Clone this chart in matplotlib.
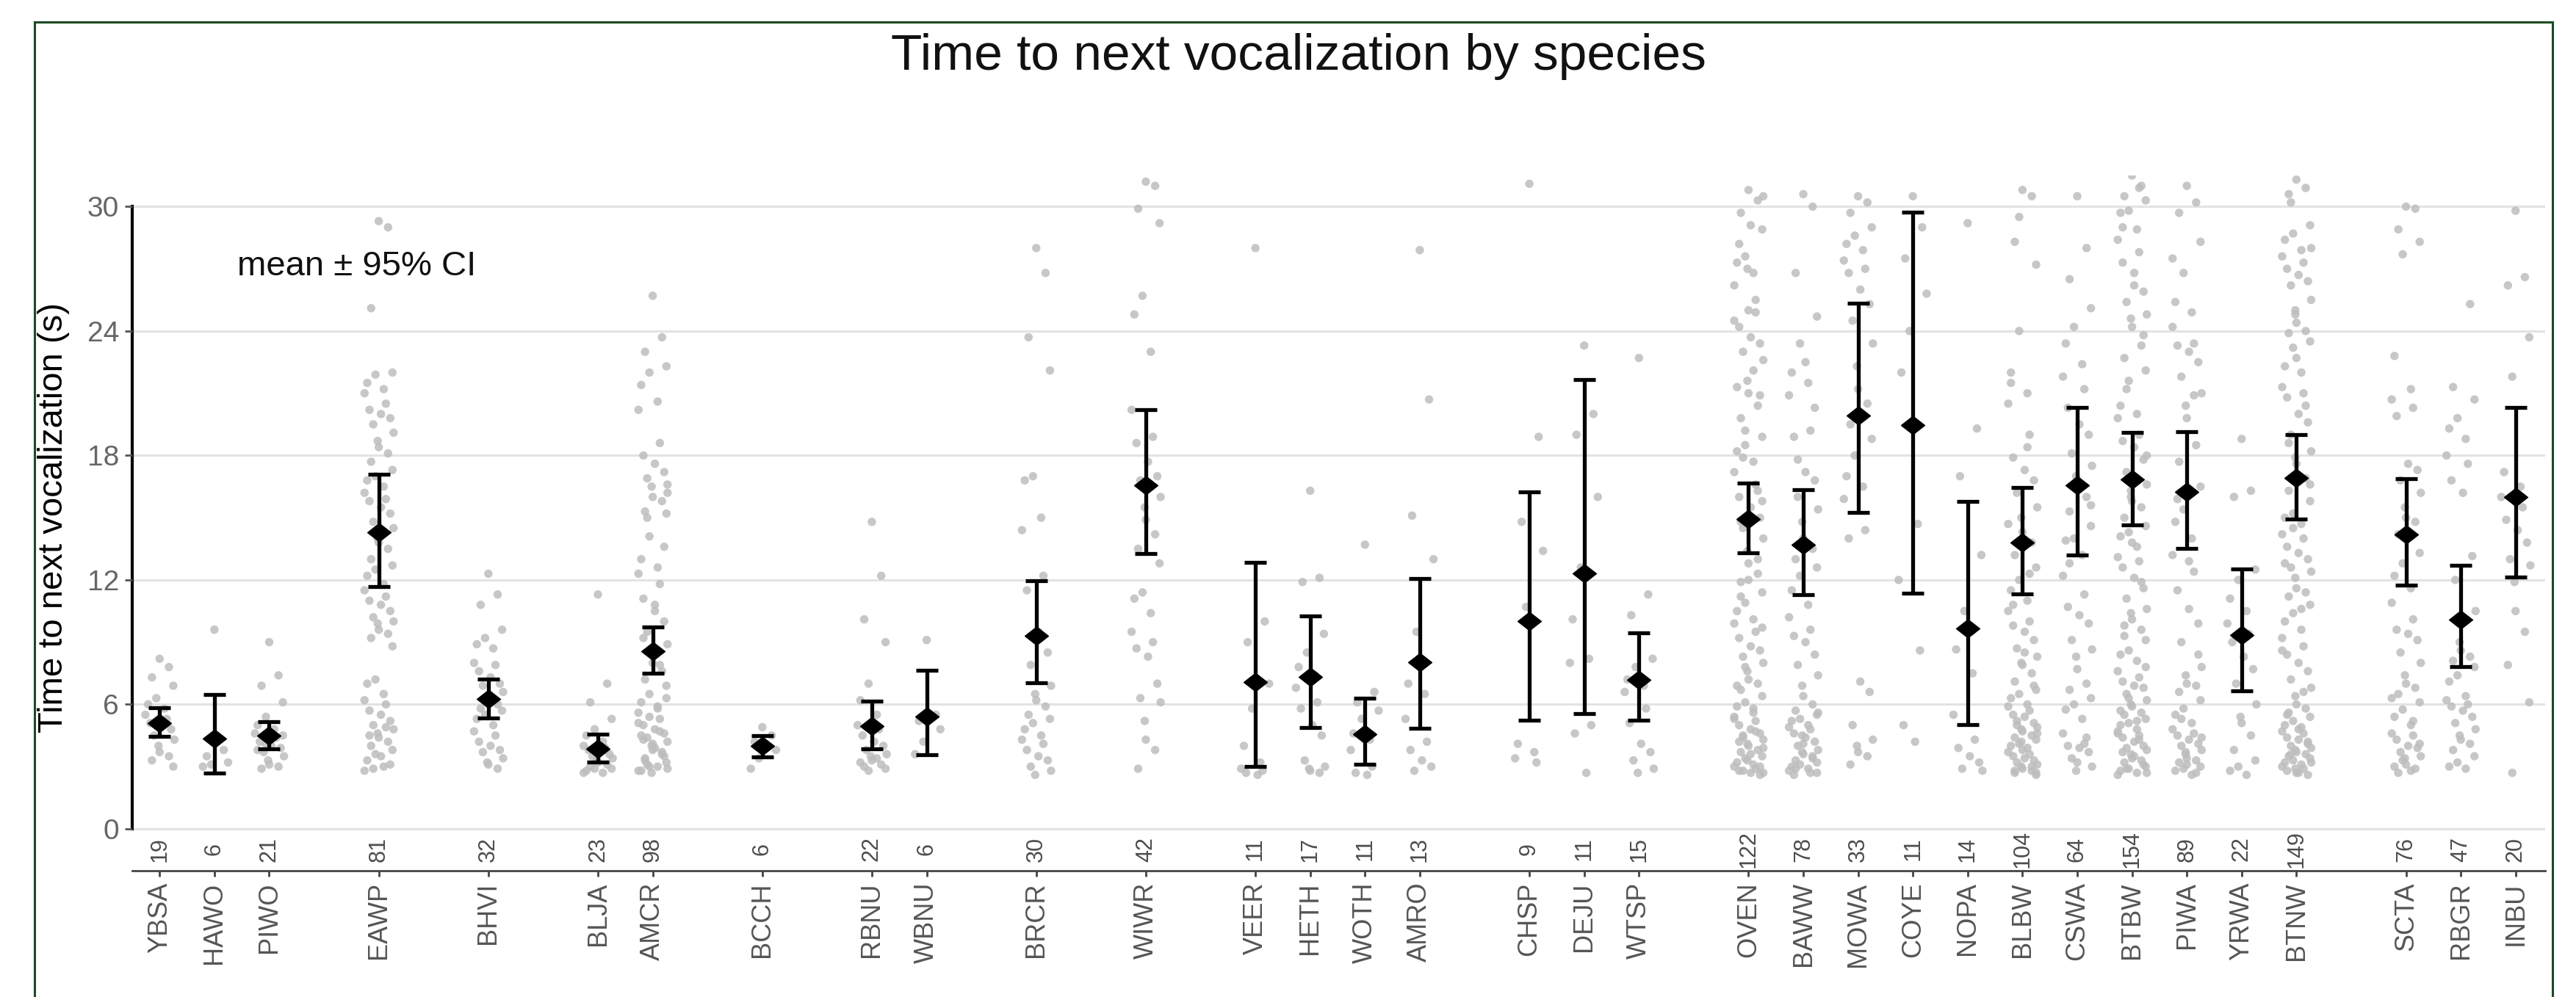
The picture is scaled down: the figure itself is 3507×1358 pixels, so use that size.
import matplotlib
matplotlib.use("Agg")
import matplotlib.pyplot as plt
from matplotlib.lines import Line2D
import numpy as np

# ---------------- data ----------------
groups = [
    ["YBSA", "HAWO", "PIWO"],
    ["EAWP"],
    ["BHVI"],
    ["BLJA", "AMCR"],
    ["BCCH"],
    ["RBNU", "WBNU"],
    ["BRCR"],
    ["WIWR"],
    ["VEER", "HETH", "WOTH", "AMRO"],
    ["CHSP", "DEJU", "WTSP"],
    ["OVEN", "BAWW", "MOWA", "COYE", "NOPA", "BLBW", "CSWA", "BTBW", "PIWA", "YRWA", "BTNW"],
    ["SCTA", "RBGR", "INBU"],
]
species = [s for g in groups for s in g]
n_obs = [19, 6, 21, 81, 32, 23, 98, 6, 22, 6, 30, 42, 11, 17, 11, 13, 9, 11, 15,
         122, 78, 33, 11, 14, 104, 64, 154, 89, 22, 149, 76, 47, 20]
mean_s = [5.11, 4.36, 4.50, 14.28, 6.27, 3.86, 8.57, 3.99, 4.95, 5.43, 9.32, 16.56,
          7.07, 7.33, 4.55, 8.05, 10.02, 12.31, 7.17,
          14.92, 13.71, 19.93, 19.45, 9.65, 13.79, 16.56, 16.85, 16.24, 9.34, 16.93,
          14.20, 10.10, 16.01]
ci_low = [4.44, 2.70, 3.86, 11.67, 5.35, 3.23, 7.49, 3.46, 3.86, 3.59, 7.04, 13.28,
          3.02, 4.87, 3.10, 4.84, 5.24, 5.55, 5.23,
          13.31, 11.30, 15.24, 11.35, 5.03, 11.33, 13.20, 14.65, 13.52, 6.64, 14.92,
          11.74, 7.81, 12.14]
ci_high = [5.84, 6.48, 5.16, 17.10, 7.23, 4.58, 9.74, 4.50, 6.16, 7.64, 11.95, 20.20,
           12.83, 10.26, 6.29, 12.07, 16.25, 21.66, 9.45,
           16.66, 16.35, 25.35, 29.73, 15.78, 16.47, 20.30, 19.10, 19.15, 12.54, 19.00,
           16.87, 12.72, 20.30]

pts_YBSA = [8.2, 7.8, 7.3, 6.9, 6.3, 6.0, 5.8, 5.5, 5.3, 5.1, 5.0, 4.8, 4.5, 4.3, 4.0, 3.7, 3.5, 3.3, 3.0]
pts_HAWO = [9.6, 3.8, 3.5, 3.2, 3.1, 3.0]
pts_PIWO = [9.0, 7.4, 6.9, 6.1, 5.4, 5.0, 4.8, 4.6, 4.4, 4.2, 4.0, 3.9, 3.7, 3.5, 3.3, 3.1, 3.0, 2.9, 4.5, 4.1, 3.8]
pts_EAWP = [29.3, 29.0, 25.1, 22.0, 21.9, 21.5, 21.2, 21.0, 20.5, 20.2, 20.0, 19.8, 19.5, 19.1, 18.7, 18.4,
            18.1, 17.7, 17.3, 17.0, 16.8, 16.5, 16.2, 15.9, 15.8, 15.5, 15.2, 14.8, 14.5, 14.0, 13.8, 13.5,
            13.0, 12.7, 12.5, 12.2, 11.8, 11.5, 11.2, 11.0, 10.8, 10.5, 10.2, 10.0, 9.9, 9.6, 9.4, 9.2, 8.8,
            7.2, 7.0, 6.5, 6.2, 6.0, 5.7, 5.5, 5.2, 5.0, 4.8, 4.6, 4.4, 4.2, 4.0, 3.8, 3.6, 3.3, 3.0, 2.8,
            4.9, 4.5, 3.5, 3.1, 2.9]
pts_BHVI = [12.3, 11.3, 10.8, 9.6, 9.2, 8.9, 8.7, 8.0, 7.9, 7.6, 7.3, 7.0, 6.9, 6.6, 6.4, 6.2, 6.0, 5.8,
            5.7, 5.5, 5.3, 5.0, 4.7, 4.5, 4.2, 4.0, 3.8, 3.7, 3.4, 3.2, 3.1, 2.9]
pts_BLJA = [11.3, 7.0, 6.1, 5.3, 4.8, 4.5, 4.2, 4.0, 3.9, 3.8, 3.7, 3.6, 3.5, 3.4, 3.3, 3.2, 3.1, 3.0,
            2.9, 2.9, 2.8, 2.7, 2.7]
pts_AMCR = [25.7, 23.7, 23.0, 22.3, 22.0, 21.4, 20.6, 20.2, 18.6, 18.0, 17.6, 17.2, 16.9, 16.6, 16.5,
            16.0, 15.8, 15.3, 15.2, 14.1, 13.0, 12.6, 12.3, 11.8, 11.1, 10.5, 10.0, 9.5, 8.9, 8.5, 8.0,
            7.6, 7.2, 6.9, 6.5, 6.1, 5.9, 5.6, 5.3, 5.0, 4.8, 4.6, 4.4, 4.2, 4.0, 3.8, 3.6, 3.4, 3.2,
            3.0, 2.8, 5.8, 5.1, 4.7, 4.3, 3.9, 3.5, 3.1, 2.9, 2.7, 4.1, 3.7, 3.3, 6.3, 5.4, 4.5, 3.0,
            2.8, 7.9, 9.2, 10.8, 13.6, 15.0, 16.2]
pts_BCCH = [4.9, 4.5, 4.2, 3.8, 3.4, 2.9]
pts_RBNU = [14.8, 12.2, 10.1, 9.0, 7.0, 6.2, 5.5, 5.0, 4.8, 4.5, 4.2, 4.0, 3.8, 3.6, 3.5, 3.3, 3.1,
            3.0, 2.9, 2.8, 3.2, 3.4]
pts_WBNU = [9.1, 5.5, 5.2, 4.8, 4.2, 3.6]
pts_BRCR = [28.0, 26.8, 23.7, 22.1, 17.0, 16.8, 15.0, 14.4, 12.2, 11.5, 9.5, 8.5, 7.9, 6.9, 6.5, 6.2,
            5.9, 5.5, 5.3, 5.1, 4.8, 4.5, 4.3, 4.1, 3.8, 3.5, 3.3, 3.0, 2.8, 2.6]
pts_WIWR = [31.2, 31.0, 29.9, 29.2, 25.7, 24.8, 23.0, 20.2, 18.9, 18.6, 17.7, 17.0, 16.8, 16.0, 15.5,
            14.9, 14.2, 13.5, 12.8, 11.4, 11.1, 10.4, 9.5, 9.0, 8.7, 8.3, 7.0, 6.3, 6.1, 5.2, 4.3, 3.8, 2.9]
pts_VEER = [28.0, 10.0, 9.0, 7.0, 5.8, 4.0, 3.2, 2.9, 2.8, 2.7, 2.6]
pts_HETH = [16.3, 12.1, 11.9, 9.4, 8.5, 7.8, 7.4, 6.8, 6.1, 5.8, 5.0, 4.5, 3.3, 3.0, 2.9, 2.8, 2.7]
pts_WOTH = [13.7, 6.6, 6.1, 5.7, 5.3, 4.6, 4.3, 3.8, 3.0, 2.7, 2.6]
pts_AMRO = [27.9, 20.7, 15.1, 13.0, 9.5, 7.0, 6.5, 5.3, 4.2, 3.8, 3.3, 3.0, 2.8]
pts_CHSP = [31.1, 18.9, 14.8, 13.4, 10.7, 4.1, 3.7, 3.4, 3.2]
pts_DEJU = [23.3, 20.0, 19.0, 16.0, 12.6, 10.1, 8.2, 8.0, 5.0, 4.6, 2.7]
pts_WTSP = [22.7, 11.3, 10.3, 8.2, 7.8, 7.2, 6.9, 6.6, 5.8, 5.1, 4.1, 3.7, 3.3, 2.9, 2.7]
pts_OVEN = [30.8, 30.3, 29.7, 28.9, 27.6, 27.3, 26.8, 26.2, 24.9, 24.2, 23.7, 23.4, 23.0, 22.6, 21.6,
            21.0, 20.4, 19.8, 18.9, 18.5, 18.2, 17.7, 17.2, 16.6, 16.0, 15.5, 15.0, 14.5, 14.0, 13.4,
            12.8, 12.3, 11.9, 11.4, 10.9, 10.5, 10.1, 9.9, 9.5, 9.2, 8.8, 8.6, 8.3, 8.0, 7.6, 7.2, 7.0,
            6.7, 6.4, 6.1, 5.9, 5.6, 5.4, 5.2, 5.0, 4.8, 4.6, 4.5, 4.3, 4.1, 4.0, 3.8, 3.7, 3.5, 3.4,
            3.2, 3.1, 3.0, 2.9, 2.8, 2.7, 2.6, 4.4, 3.9, 3.3, 12.0, 13.0, 14.8, 15.8, 19.2, 21.3, 22.1,
            24.5, 25.5, 28.2, 29.1, 20.9, 17.9, 30.5, 27.0, 25.0, 16.3, 11.2, 9.7, 7.8, 6.9, 5.8, 5.3,
            4.7, 4.2, 3.6, 3.0, 2.8, 2.7]
pts_BAWW = [30.6, 30.0, 26.8, 24.7, 23.4, 22.0, 21.5, 20.9, 19.2, 18.9, 17.2, 16.8, 16.0, 15.4, 14.8,
            14.0, 13.5, 13.0, 12.6, 12.2, 11.5, 10.8, 10.2, 9.6, 9.3, 9.0, 8.4, 7.9, 7.4, 6.9, 6.4, 6.0,
            5.7, 5.5, 5.3, 5.2, 5.0, 4.9, 4.8, 4.6, 4.4, 4.2, 4.0, 3.8, 3.7, 3.6, 3.5, 3.3, 3.2, 3.1,
            3.0, 2.9, 2.8, 2.7, 2.6, 22.5, 20.3, 17.8, 5.6, 4.5, 4.1, 3.4, 2.9, 2.7]
pts_MOWA = [30.5, 30.2, 29.7, 29.0, 28.6, 28.2, 27.9, 27.4, 27.0, 26.8, 26.0, 25.3, 24.5, 23.4, 22.3,
            21.2, 20.5, 19.5, 18.8, 18.0, 17.0, 16.5, 15.9, 14.4, 14.0, 7.1, 6.6, 5.0, 4.3, 4.0, 3.7,
            3.5, 3.1]
pts_COYE = [30.5, 29.0, 27.5, 25.8, 24.0, 22.0, 14.7, 12.0, 8.6, 5.0, 4.2]
pts_NOPA = [29.2, 19.3, 17.0, 13.2, 10.5, 8.65, 7.5, 5.5, 4.3, 3.9, 3.5, 3.2, 2.9, 2.8]
pts_BLBW = [30.8, 30.5, 28.3, 27.2, 24.0, 22.0, 21.0, 20.5, 19.0, 17.9, 17.3, 16.8, 16.2, 15.5, 15.0,
            14.3, 13.8, 13.2, 12.6, 12.0, 11.5, 11.0, 10.5, 10.0, 9.8, 9.5, 9.1, 8.7, 8.3, 8.0, 7.9,
            7.5, 7.1, 6.7, 6.5, 6.3, 6.0, 5.9, 5.7, 5.5, 5.4, 5.1, 5.0, 4.9, 4.8, 4.7, 4.5, 4.4, 4.3,
            4.1, 4.0, 3.9, 3.7, 3.6, 3.5, 3.4, 3.3, 3.2, 3.1, 3.0, 2.9, 2.8, 2.7, 2.6, 29.5, 21.5, 18.4,
            14.7, 12.3, 10.8, 8.5, 6.9, 5.2, 4.6, 4.2, 3.8, 3.0, 2.8, 2.7]
pts_CSWA = [30.5, 28.0, 26.5, 25.1, 24.2, 23.4, 22.4, 21.8, 21.2, 20.3, 19.5, 19.0, 18.1, 17.5, 17.0,
            16.8, 16.0, 15.3, 14.6, 14.0, 13.9, 13.2, 12.2, 11.3, 10.7, 10.3, 9.9, 9.1, 8.65, 8.3, 7.7,
            7.0, 6.7, 6.3, 6.0, 5.75, 5.3, 4.6, 4.1, 4.0, 3.9, 3.7, 3.4, 3.0, 2.8, 3.2, 4.4, 12.8, 15.6]
pts_BTBW = [31.5, 31.0, 30.5, 30.3, 29.8, 29.7, 28.9, 28.4, 27.8, 27.3, 26.8, 25.9, 25.4, 24.8, 24.6,
            24.2, 23.3, 22.7, 22.1, 21.6, 20.4, 20.0, 19.8, 19.0, 18.7, 18.4, 17.8, 17.2, 16.6, 16.0,
            15.8, 15.5, 15.0, 14.6, 14.3, 14.1, 13.6, 13.1, 12.9, 12.6, 12.1, 11.6, 11.1, 10.6, 10.4,
            10.1, 9.6, 9.3, 9.1, 8.6, 8.4, 8.1, 7.6, 7.3, 7.1, 6.9, 6.8, 6.5, 6.2, 6.0, 5.9, 5.6, 5.5,
            5.3, 5.1, 5.0, 4.8, 4.6, 4.5, 4.4, 4.2, 4.0, 3.9, 3.8, 3.6, 3.4, 3.3, 3.2, 3.0, 2.9, 2.8,
            2.7, 2.6, 30.9, 29.0, 26.2, 23.8, 21.2, 18.0, 16.3, 13.8, 11.9, 9.8, 7.8, 6.3, 5.7, 5.2, 4.7,
            4.3, 3.7, 3.5, 3.1, 2.9, 2.7]
pts_PIWA = [31.0, 30.2, 29.7, 28.3, 26.8, 25.4, 24.9, 24.2, 23.4, 23.3, 23.0, 22.5, 21.8, 21.0, 20.4,
            19.8, 18.5, 17.7, 16.5, 15.4, 14.8, 14.0, 13.2, 12.4, 11.5, 10.6, 9.9, 9.0, 7.8, 7.4, 7.0,
            6.9, 6.6, 6.2, 5.8, 5.5, 5.1, 4.8, 4.6, 4.5, 4.3, 4.1, 4.0, 3.8, 3.6, 3.4, 3.3, 3.2, 3.0,
            2.9, 2.8, 2.6, 27.5, 20.9, 15.9, 12.9, 8.4, 5.3, 4.4, 3.7, 3.1, 2.7]
pts_YRWA = [18.8, 16.3, 16.0, 12.5, 12.0, 11.1, 10.5, 9.9, 9.4, 9.0, 8.3, 7.7, 7.0, 6.0, 5.4, 5.1,
            4.5, 3.8, 3.3, 3.0, 2.8, 2.6]
pts_BTNW = [31.3, 30.9, 30.6, 29.1, 28.7, 28.4, 27.9, 27.6, 27.3, 27.0, 26.7, 26.4, 26.2, 25.5, 24.8,
            24.4, 24.0, 23.9, 23.5, 23.2, 22.3, 22.0, 21.3, 21.0, 20.8, 20.0, 19.6, 19.0, 18.2, 17.9,
            17.6, 16.9, 16.3, 15.8, 15.2, 15.0, 14.7, 14.2, 14.0, 13.6, 13.3, 13.0, 12.6, 12.4, 12.1,
            11.6, 11.4, 11.2, 10.8, 10.4, 10.0, 9.6, 9.2, 8.8, 8.4, 8.0, 7.6, 7.2, 6.8, 6.4, 6.0, 5.8,
            5.6, 5.4, 5.2, 5.0, 4.9, 4.7, 4.6, 4.4, 4.3, 4.1, 4.0, 3.9, 3.8, 3.7, 3.6, 3.5, 3.4, 3.3,
            3.2, 3.1, 3.0, 2.9, 2.8, 2.7, 2.6, 30.2, 28.0, 25.0, 22.7, 20.4, 18.6, 16.6, 14.5, 12.8,
            10.6, 8.6, 6.6, 5.5, 4.8, 4.2, 3.6, 3.2, 2.9, 2.7]
pts_SCTA = [30.0, 29.9, 28.9, 28.3, 27.7, 22.8, 21.2, 20.7, 20.3, 19.9, 17.6, 17.3, 16.8, 16.2, 15.5,
            15.0, 14.8, 14.2, 13.3, 12.8, 12.2, 11.6, 10.9, 10.1, 9.6, 9.4, 9.1, 8.5, 8.0, 7.4, 7.0,
            6.8, 6.5, 6.1, 5.75, 5.4, 5.0, 4.6, 4.5, 4.3, 4.0, 3.9, 3.7, 3.5, 3.4, 3.1, 2.9, 2.7,
            4.1, 3.3, 3.0, 2.8, 6.3, 5.2]
pts_RBGR = [31.7, 25.3, 21.3, 20.7, 19.8, 19.3, 18.8, 18.0, 17.6, 16.8, 16.2, 13.15, 12.0, 10.5, 9.0,
            8.6, 8.3, 8.1, 7.8, 7.4, 7.1, 6.4, 6.2, 6.0, 5.9, 5.7, 5.4, 5.1, 4.8, 4.5, 4.3, 4.1, 3.8,
            3.5, 3.2, 3.0, 2.9]
pts_INBU = [29.8, 26.6, 26.2, 23.7, 21.8, 17.2, 16.5, 16.0, 15.5, 14.9, 14.4, 13.8, 13.0, 12.7, 11.9,
            10.5, 9.5, 7.9, 6.1, 2.7]

points = {s: globals()["pts_" + s] for s in species}

title = "Time to next vocalization by species"
y_label = "Time to next vocalization (s)"
note = "mean \u00b1 95% CI"
y_ticks = [0, 6, 12, 18, 24, 30]

# ---------------- layout ----------------
W, H = 3507, 1358
DPI = 100
FONT = ["Liberation Sans", "Arial", "DejaVu Sans"]
plt.rcParams["font.family"] = FONT

fig = plt.figure(figsize=(W / DPI, H / DPI), dpi=DPI)
fig.patch.set_facecolor("white")

# category positions: one empty slot between groups
xpos = []
cur = 0
for g in groups:
    for _ in g:
        xpos.append(cur)
        cur += 1
    cur += 1
xpos = np.array(xpos, dtype=float)

ax = fig.add_axes([180 / W, 1 - 1186 / H, (3465 - 180) / W, (1186 - 239) / H])
ax.set_xlim(-0.5, xpos[-1] + 0.54)
ax.set_ylim(-2.02, 31.5)

for sp in ["top", "right"]:
    ax.spines[sp].set_visible(False)
ax.spines["left"].set_bounds(0, 30)
ax.spines["left"].set_linewidth(3.0)
ax.spines["left"].set_color("black")
ax.spines["left"].set_zorder(1)
ax.spines["bottom"].set_linewidth(2.0)
ax.spines["bottom"].set_color("#444444")

for yv in y_ticks:
    ax.axhline(yv, color="#e3e3e3", lw=2.2, zorder=0)

# jittered raw points (deterministic jitter pattern)
jit = np.array([0.0, 0.17, -0.14, 0.25, -0.06, -0.21, 0.09, -0.26, 0.13, -0.17, 0.04, 0.21, -0.10, 0.27, -0.02])
for xi, s in zip(xpos, species):
    vals = np.array(points[s])
    offs = jit[np.arange(len(vals)) % len(jit)]
    ax.scatter(xi + offs, vals, s=68, color="#bdbdbd", alpha=0.85, edgecolors="none", zorder=2)

# error bars + diamonds
mean_a = np.array(mean_s)
yerr = np.vstack([mean_a - np.array(ci_low), np.array(ci_high) - mean_a])
ax.errorbar(xpos, mean_a, yerr=yerr, fmt="none", ecolor="black", elinewidth=3.8,
            capsize=11, capthick=3.8, zorder=4)
diamond = [(-1, 0), (0, 0.78), (1, 0), (0, -0.78), (-1, 0)]
ax.plot(xpos, mean_a, linestyle="none", marker=diamond, markersize=23, color="black", zorder=5)

# counts
for xi, nn in zip(xpos, n_obs):
    ax.text(xi, -0.98, str(nn), rotation=90, ha="center", va="center", fontsize=22,
            color="#4d4d4d", zorder=6)

ax.set_yticks(y_ticks)
ax.set_yticklabels([str(v) for v in y_ticks], fontsize=28, color="#666666")
ax.tick_params(axis="y", length=7, width=2, color="#555555", pad=6)
ax.set_xticks(xpos)
ax.set_xticklabels(species, rotation=90, fontsize=26, color="#555555", va="top", ha="center")
ax.tick_params(axis="x", length=6, width=2, color="#444444", pad=5)

fig.text(73 / W, 1 - 705 / H, y_label, rotation=90, ha="center", va="center", fontsize=34, color="black")
ax.text(-0.5 + (323 - 180) / 74.6, 27.1, note, ha="left", va="center", fontsize=34, color="#111111")

fig.text(1768 / W, 1 - 95 / H, title, ha="center", va="baseline", fontsize=50, color="#111111")

# outer green frame
fc = "#1d4a22"
fig.add_artist(Line2D([47 / W, 47 / W], [0, 1 - 30 / H], color=fc, lw=2.2, transform=fig.transFigure))
fig.add_artist(Line2D([47 / W, 3475 / W], [1 - 30 / H, 1 - 30 / H], color=fc, lw=2.2, transform=fig.transFigure))
fig.add_artist(Line2D([3475 / W, 3475 / W], [0, 1 - 30 / H], color=fc, lw=2.2, transform=fig.transFigure))

fig.savefig("out.png", dpi=DPI, facecolor="white")
